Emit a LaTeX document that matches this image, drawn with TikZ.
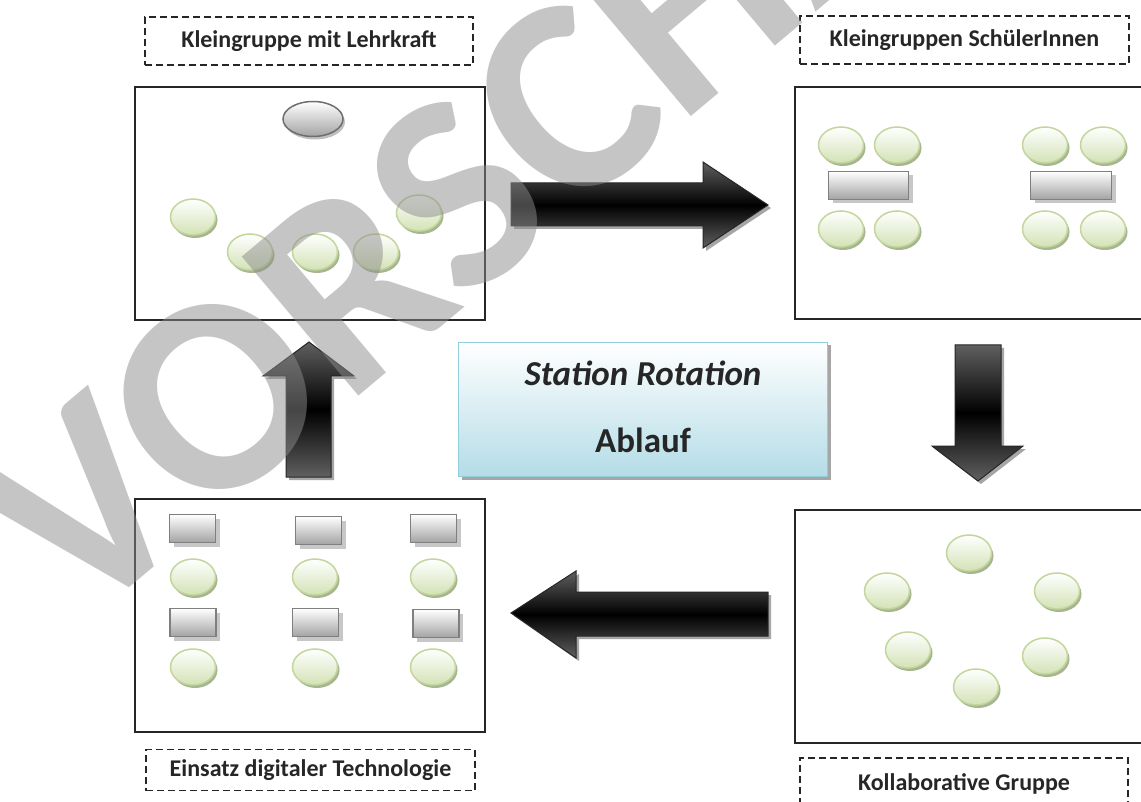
\documentclass[tikz,border=0pt]{standalone}
\usepackage{fontspec}
\setmainfont{Carlito}
\usetikzlibrary{shapes.geometric,shadows}
\definecolor{frame}{HTML}{262626}
\definecolor{grn}{HTML}{C3D69B}
\definecolor{grnfill}{HTML}{D3E2B6}
\definecolor{grnshadow}{HTML}{A7B591}
\definecolor{deskborder}{HTML}{7F7F7F}
\definecolor{deskfill}{HTML}{A3A3A3}
\definecolor{teachborder}{HTML}{6E6E6E}
\definecolor{arrowgray}{HTML}{606060}
\definecolor{bluefill}{HTML}{B4DCE7}
\definecolor{blueborder}{HTML}{92CDDC}
\definecolor{wmgray}{HTML}{8C8C8C}
\begin{document}
\begin{tikzpicture}[x=1pt,y=-1pt,
  box/.style={draw=frame, line width=1.5pt},
  lab/.style={draw=frame, line width=1.5pt, dash pattern=on 7pt off 4pt,
    font=\fontsize{24}{28}\selectfont\bfseries, text=frame, inner sep=0pt},
  stu/.style={ellipse, draw=grn, line width=1.5pt, top color=white, bottom color=grnfill,
    minimum width=45pt, minimum height=36pt, inner sep=0pt,
    drop shadow={shadow xshift=2pt, shadow yshift=-3pt, fill=grnshadow, opacity=1}},
  teach/.style={ellipse, draw=teachborder, line width=1.5pt, top color=white, bottom color=deskfill,
    minimum width=60pt, minimum height=35pt, inner sep=0pt,
    drop shadow={shadow xshift=2pt, shadow yshift=-3pt, fill=black!25, opacity=1}},
  desk/.style={rectangle, draw=deskborder, line width=1.5pt, top color=white, bottom color=deskfill,
    inner sep=0pt, minimum height=28pt,
    drop shadow={shadow xshift=4pt, shadow yshift=-4pt, fill=black!22, opacity=1}},
  bigarrow/.style={draw=frame, line width=1pt, top color=arrowgray, bottom color=arrowgray, middle color=black,
    drop shadow={shadow xshift=3pt, shadow yshift=-3pt, fill=black!35, opacity=1}},
  titlebox/.style={rectangle, draw=blueborder, line width=1.5pt, top color=white, bottom color=bluefill,
    drop shadow={shadow xshift=3pt, shadow yshift=-3pt, fill=black!35, opacity=1}},
  titletext/.style={font=\fontsize{35}{40}\selectfont\bfseries, text=frame, inner sep=0pt}
]
\clip (0,0) rectangle (1141,802);
\fill[white] (0,0) rectangle (1141,802);

% labels
\node[lab, minimum width=328pt, minimum height=48pt] (l1) at (309,41) {Kleingruppe mit Lehrkraft};
\node[lab, minimum width=329pt, minimum height=48pt] (l2) at (964.5,40) {Kleingruppen SchülerInnen};
\node[lab, minimum width=329pt, minimum height=41pt] (l3) at (310.5,770) {Einsatz digitaler Technologie};
\node[lab, minimum width=328pt, minimum height=52pt] (l4) at (964,784) {Kollaborative Gruppe};

% frames
\draw[box] (135,87) rectangle (485,320);
\draw[box] (795,87) rectangle (1150,319);
\draw[box] (135,499) rectangle (485,732);
\draw[box] (795,510) rectangle (1150,743);

% top-left: teacher and students
\node[teach] (t) at (313,119) {};
\node[stu] (a1) at (193,217) {};
\node[stu] (a2) at (250,252) {};
\node[stu] (a3) at (315,252) {};
\node[stu] (a4) at (376,252) {};
\node[stu] (a5) at (419,213) {};

% top-right: two groups
\node[stu] (b1) at (841,145) {};
\node[stu] (b2) at (897,145) {};
\node[desk, minimum width=80pt] (bd1) at (868.5,185.5) {};
\node[stu] (b3) at (841,229) {};
\node[stu] (b4) at (897,229) {};
\node[stu] (b5) at (1045,145) {};
\node[stu] (b6) at (1103,145) {};
\node[desk, minimum width=81pt] (bd2) at (1071,185.5) {};
\node[stu] (b7) at (1045,229) {};
\node[stu] (b8) at (1103,229) {};

% bottom-left: technology
\node[desk, minimum width=46pt] (c1) at (192.5,528.5) {};
\node[desk, minimum width=46pt] (c2) at (318.5,530.5) {};
\node[desk, minimum width=46pt] (c3) at (433.5,528.5) {};
\node[stu] (s1) at (193,577) {};
\node[stu] (s2) at (315,577) {};
\node[stu] (s3) at (433,577) {};
\node[desk, minimum width=46pt] (c4) at (193,622.5) {};
\node[desk, minimum width=46pt] (c5) at (315.5,622.5) {};
\node[desk, minimum width=46pt] (c6) at (436,623.5) {};
\node[stu] (s4) at (193,667) {};
\node[stu] (s5) at (315,667) {};
\node[stu] (s6) at (433,667) {};

% bottom-right: collaborative circle
\node[stu] (d1) at (969,553) {};
\node[stu] (d2) at (887,591) {};
\node[stu] (d3) at (1057,591) {};
\node[stu] (d4) at (908,650) {};
\node[stu] (d5) at (1045,656) {};
\node[stu] (d6) at (976,687) {};

% block arrows
\shadedraw[bigarrow] (511,183) -- (703,183) -- (703,162) -- (768,205) -- (703,248) -- (703,226) -- (511,226) -- cycle;
\shadedraw[bigarrow] (955,345) -- (1001,345) -- (1001,446) -- (1023,446) -- (978,481) -- (932,446) -- (955,446) -- cycle;
\shadedraw[bigarrow] (768,592) -- (576,592) -- (576,571) -- (511,613) -- (576,658) -- (576,636) -- (768,636) -- cycle;
\shadedraw[bigarrow] (286,477) -- (286,376) -- (263,376) -- (309,342) -- (354,376) -- (331,376) -- (331,477) -- cycle;

% title
\node[titlebox, minimum width=369pt, minimum height=134pt] (title) at (643,409.5) {};
\node[titletext] (tt1) at (643,373) {\itshape Station Rotation};
\node[titletext] (tt2) at (643,440) {Ablauf};

% watermark
\node[rotate=40, anchor=base, text=wmgray, opacity=.5, inner sep=0pt,
  font=\fontsize{280}{280}\selectfont\bfseries] (wm) at (580,210) {VORSCHAU};
\end{tikzpicture}
\end{document}
